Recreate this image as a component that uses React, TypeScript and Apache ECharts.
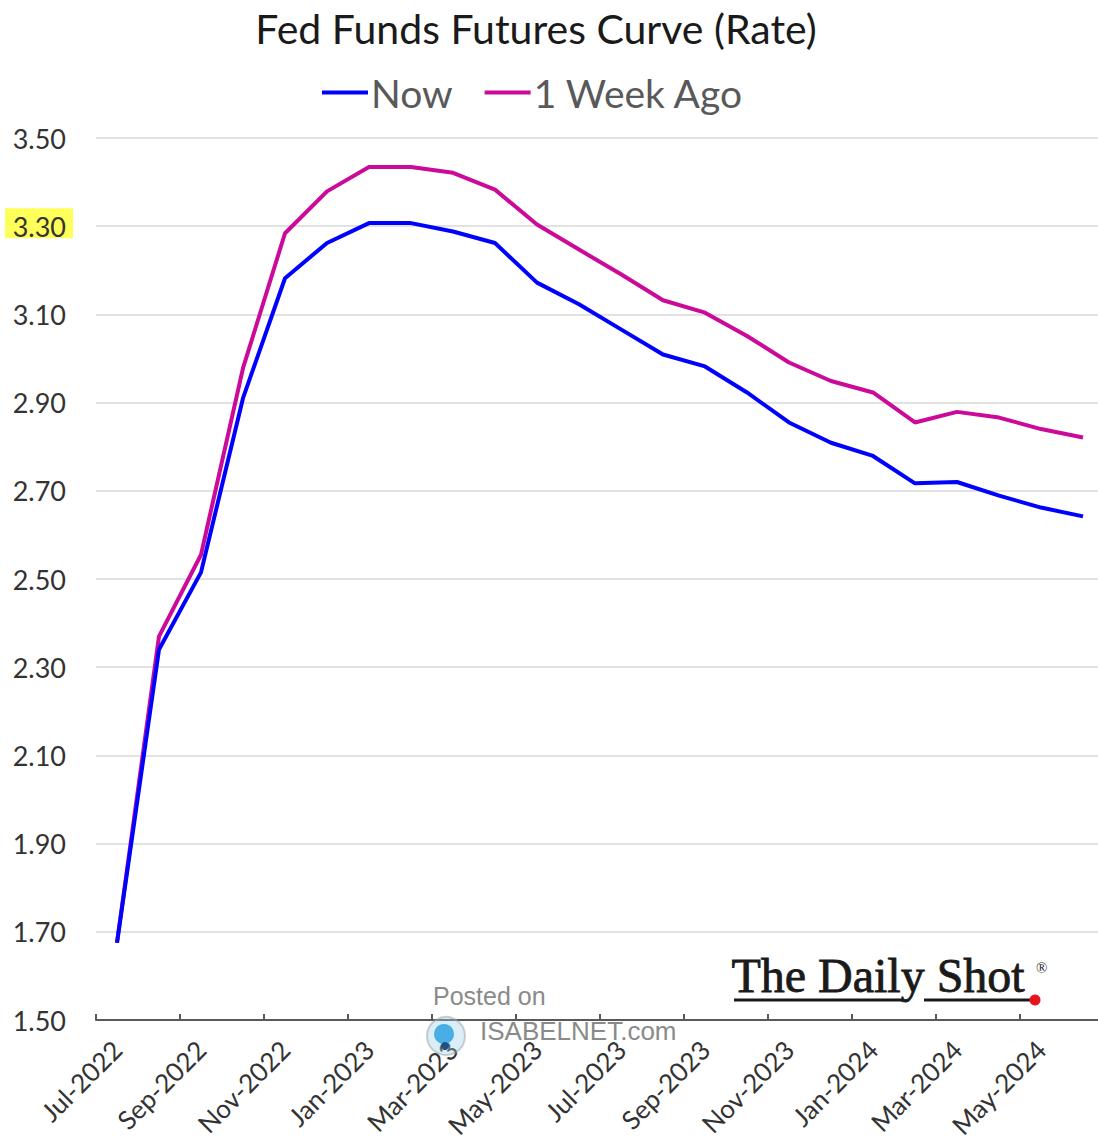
import React, { useEffect, useRef } from "react";
import * as echarts from "echarts";

const categories = [
  "Jul-2022", "Aug-2022", "Sep-2022", "Oct-2022", "Nov-2022", "Dec-2022",
  "Jan-2023", "Feb-2023", "Mar-2023", "Apr-2023", "May-2023", "Jun-2023",
  "Jul-2023", "Aug-2023", "Sep-2023", "Oct-2023", "Nov-2023", "Dec-2023",
  "Jan-2024", "Feb-2024", "Mar-2024", "Apr-2024", "May-2024", "Jun-2024",
];

const nowValues = [
  1.675, 2.34, 2.515, 2.91, 3.182, 3.262, 3.307, 3.307, 3.288, 3.262, 3.172, 3.123,
  3.066, 3.009, 2.982, 2.923, 2.855, 2.809, 2.779, 2.717, 2.72, 2.689, 2.662, 2.642,
];

const weekAgoValues = [
  1.675, 2.37, 2.555, 2.978, 3.284, 3.379, 3.434, 3.434, 3.421, 3.383, 3.304, 3.247,
  3.191, 3.132, 3.104, 3.051, 2.991, 2.949, 2.923, 2.855, 2.879, 2.866, 2.84, 2.821,
];

const seriesNames = ["Now", "1 Week Ago"];
const highlightedTick = 3.3;

const FONT = "Lato, 'Open Sans', sans-serif";
const SANS = "'Liberation Sans', Arial, sans-serif";
const SERIF = "'Liberation Serif', 'DejaVu Serif', serif";

export default function App() {
  const ref = useRef<HTMLDivElement>(null);

  useEffect(() => {
    document.body.style.margin = "0";
    const chart = echarts.init(ref.current!, null, { renderer: "svg" });
    const watermark: any[] = [
      {
        type: "text",
        left: 433,
        top: 983,
        style: { text: "Posted on", fontFamily: SANS, fontSize: 25, fill: "#8a8a8a" },
        z: 10,
      },
      {
        type: "circle",
        shape: { cx: 446, cy: 1036, r: 19 },
        style: { fill: "rgba(150,205,235,0.35)", stroke: "rgba(160,160,160,0.5)", lineWidth: 2 },
        z: 10,
      },
      {
        type: "circle",
        shape: { cx: 444, cy: 1034, r: 10 },
        style: { fill: "#4aaee6" },
        z: 10,
      },
      {
        type: "circle",
        shape: { cx: 445, cy: 1046, r: 4 },
        style: { fill: "#1f4f80" },
        z: 10,
      },
      {
        type: "text",
        left: 480,
        top: 1018,
        style: { text: "ISABELNET.com", fontFamily: SANS, fontSize: 26, fill: "#8a8a8a" },
        z: 10,
      },
      {
        type: "text",
        left: 731,
        top: 951,
        style: {
          text: "The Daily Shot",
          fontFamily: SERIF,
          fontSize: 48,
          fill: "#1a1a1a",
          stroke: "#1a1a1a",
          lineWidth: 0.8,
        },
        z: 10,
      },
      {
        type: "text",
        left: 1036,
        top: 960,
        style: { text: "®", fontFamily: SERIF, fontSize: 15, fill: "#1a1a1a" },
        z: 10,
      },
      {
        type: "line",
        shape: { x1: 734, y1: 1000, x2: 903, y2: 1000 },
        style: { stroke: "#1a1a1a", lineWidth: 3 },
        z: 10,
      },
      {
        type: "line",
        shape: { x1: 924, y1: 1000, x2: 1032, y2: 1000 },
        style: { stroke: "#1a1a1a", lineWidth: 3 },
        z: 10,
      },
      {
        type: "circle",
        shape: { cx: 1035, cy: 1000, r: 5.5 },
        style: { fill: "#e8141c" },
        z: 11,
      },
    ];

    chart.setOption({
      animation: false,
      backgroundColor: "#ffffff",
      title: {
        text: "Fed Funds Futures Curve (Rate)",
        left: 531,
        textAlign: "center",
        top: 3,
        textStyle: { fontFamily: FONT, fontSize: 41, fontWeight: "normal", color: "#1a1a1a" },
      },
      legend: {
        data: seriesNames,
        left: 317,
        top: 68,
        icon: "rect",
        itemWidth: 46,
        itemHeight: 4,
        itemGap: 32,
        textStyle: { fontFamily: FONT, fontSize: 39, color: "#595959", padding: [0, 0, 0, -2] },
      },
      grid: {
        left: 96,
        top: 138,
        width: 1008,
        bottom: 124,
        containLabel: false,
        outerBoundsMode: "none",
      },
      xAxis: {
        type: "category",
        data: categories,
        boundaryGap: true,
        axisLine: { lineStyle: { color: "#595959", width: 2 } },
        axisTick: { show: true, inside: true, length: 6, interval: 1, lineStyle: { color: "#595959", width: 2 } },
        axisLabel: {
          interval: 1,
          rotate: 45,
          margin: 25,
          fontFamily: FONT,
          fontSize: 26,
          color: "#333333",
        },
        splitLine: { show: false },
      },
      yAxis: {
        type: "value",
        min: 1.5,
        max: 3.5,
        interval: 0.2,
        axisLine: { show: false },
        axisTick: { show: false },
        splitLine: { lineStyle: { color: "#d9d9d9", width: 1.5 } },
        axisLabel: {
          margin: 30,
          fontFamily: FONT,
          fontSize: 27,
          color: "#333333",
          formatter: (v: number) => v.toFixed(2),
        },
      },
      series: [
        {
          name: seriesNames[0],
          type: "line",
          data: nowValues,
          symbol: "none",
          lineStyle: { color: "#0000ff", width: 4 },
          itemStyle: { color: "#0000ff" },
          z: 3,
        },
        {
          name: seriesNames[1],
          type: "line",
          data: weekAgoValues,
          symbol: "none",
          lineStyle: { color: "#cc0a99", width: 4 },
          itemStyle: { color: "#cc0a99" },
          z: 2,
        },
      ],
      graphic: watermark,
    });

    const hy = chart.convertToPixel({ yAxisIndex: 0 }, highlightedTick) as number;
    chart.setOption({
      graphic: [
        ...watermark,
        {
          type: "rect",
          shape: { x: 5, y: hy - 18, width: 68, height: 30 },
          style: { fill: "#ffff5a" },
          z: -1,
        },
      ],
    });

    return () => chart.dispose();
  }, []);

  return <div ref={ref} style={{ width: 1098, height: 1144 }} />;
}
